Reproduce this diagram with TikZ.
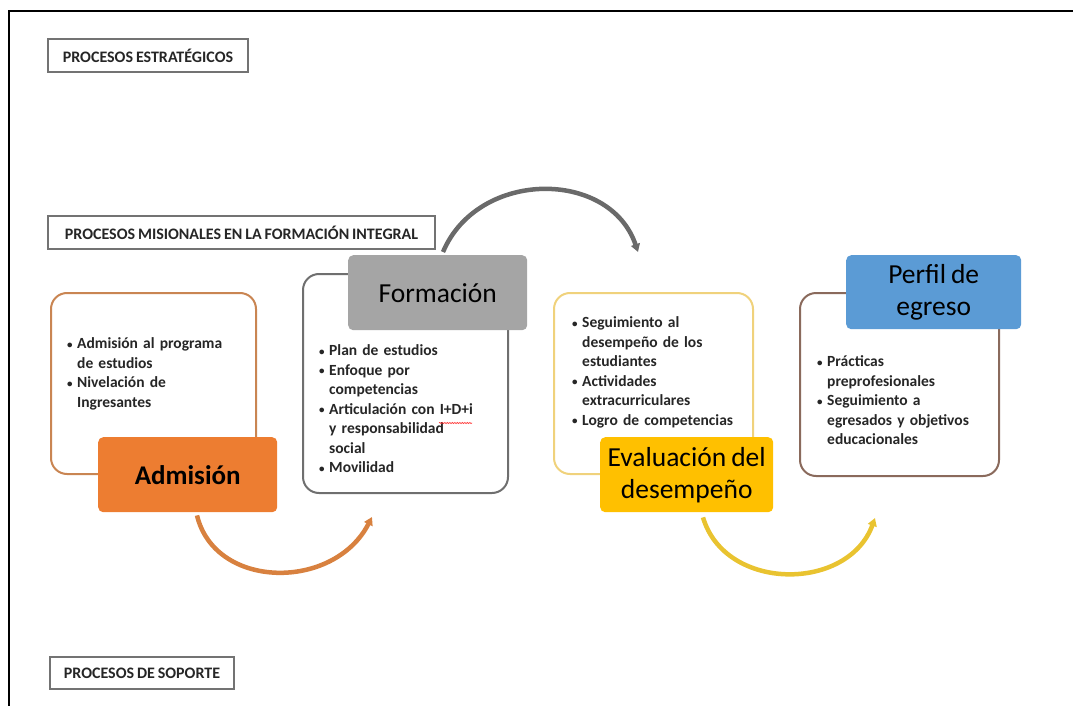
\documentclass[tikz,border=0pt]{standalone}
\usepackage{fontspec}
\setmainfont{Carlito}[WordSpace=0.8]
\usetikzlibrary{arrows.meta,decorations.pathmorphing}
\definecolor{orfill}{HTML}{ED7D31}
\definecolor{orline}{HTML}{C98552}
\definecolor{orarrow}{HTML}{D8813F}
\definecolor{grfill}{HTML}{A5A5A5}
\definecolor{grline}{HTML}{6F6F6F}
\definecolor{grarrow}{HTML}{6A6A6A}
\definecolor{yefill}{HTML}{FFC000}
\definecolor{yeline}{HTML}{F0D27C}
\definecolor{yearrow}{HTML}{E9C330}
\definecolor{blfill}{HTML}{5B9BD5}
\definecolor{blline}{HTML}{8A6A5C}
\definecolor{txt}{HTML}{262626}
\newcommand\bi{\par\rightskip=0pt plus 1fil\relax\hangindent=10pt\hangafter=1\noindent\makebox[10pt][l]{\raisebox{0.5pt}{\fontsize{11}{11}\selectfont•}}}
\tikzset{
  titlebox/.style={draw=black!55, line width=1.2pt, fill=white, inner sep=0pt,
    font=\bfseries\fontsize{16}{18}\selectfont, text=txt},
  outbox/.style={line width=2pt, rounded corners=16pt, fill=white, inner sep=0pt},
  headbox/.style={rounded corners=5pt, inner sep=0pt, text=black,
    font=\fontsize{27.5}{32}\selectfont, align=center},
  bultext/.style={inner sep=0pt, anchor=north west, text width=200pt,
    font=\bfseries\fontsize{15.5}{19.5}\selectfont, text=txt},
  flow/.style={line width=4.5pt, -{Triangle[length=8pt,width=9pt]}},
}
\begin{document}
\begin{tikzpicture}[x=1pt,y=-1pt]
\useasboundingbox (0,0) rectangle (1073,706);
% frame (top and left only)
\draw[line width=2.2pt] (9,706) -- (9,11) -- (1073,11);

% section titles
\node[titlebox, minimum width=200pt, minimum height=33pt] (estr) at (148,55.5) {PROCESOS ESTRATÉGICOS};
\node[titlebox, minimum width=387pt, minimum height=33pt] (mis) at (241.5,232.5) {PROCESOS MISIONALES EN LA FORMACIÓN INTEGRAL};
\node[titlebox, minimum width=184pt, minimum height=32pt] (sop) at (142,673) {PROCESOS DE SOPORTE};

% Admision
\node[outbox, draw=orline, minimum width=205pt, minimum height=181pt, anchor=north west] (admO) at (50,292) {};
\node[bultext] (admT) at (67,329) {\bi Admisión al programa\newline de estudios\bi Nivelación de\newline Ingresantes\par};
\node[headbox, fill=orfill, minimum width=179pt, minimum height=75pt, anchor=north west, font=\bfseries\fontsize{27}{32}\selectfont] (adm) at (98,437) {Admisión};

% Formacion
\node[outbox, draw=grline, minimum width=205pt, minimum height=219pt, anchor=north west] (forO) at (302,273) {};
\node[bultext] (forT) at (319,336) {\bi Plan de estudios\bi Enfoque por\newline competencias\bi Articulación con I+D+i\newline y responsabilidad\newline social\bi Movilidad\par};
\node[headbox, fill=grfill, minimum width=179pt, minimum height=75pt, anchor=north west] (for) at (348,255) {Formación};
\draw[red!80, line width=0.6pt, decorate, decoration={snake, amplitude=0.6pt, segment length=2.5pt}] (439,423) -- (472,423);

% Evaluacion
\node[outbox, draw=yeline, minimum width=199pt, minimum height=181pt, anchor=north west] (evaO) at (553,292) {};
\node[bultext] (evaT) at (572,308) {\bi Seguimiento al\newline desempeño de los\newline estudiantes\bi Actividades\newline extracurriculares\bi Logro de competencias\par};
\node[headbox, fill=yefill, minimum width=173pt, minimum height=75pt, anchor=north west] (eva) at (600,437) {Evaluación del\\desempeño};

% Perfil
\node[outbox, draw=blline, minimum width=199pt, minimum height=183pt, anchor=north west] (perO) at (799,292) {};
\node[bultext] (perT) at (817,347) {\bi Prácticas\newline preprofesionales\bi Seguimiento a\newline egresados y objetivos\newline educacionales\par};
\node[headbox, fill=blfill, minimum width=175pt, minimum height=74pt, anchor=north west] (per) at (846,255) {\raisebox{-3pt}{\parbox{170pt}{\centering Perfil de\\egreso}}};

% flow arrows
\coordinate (a1e) at (372,517);
\coordinate (a2s) at (443,252);
\coordinate (a2e) at (638,252);
\coordinate (a3e) at (875,518);
\draw[flow, orarrow] (adm.south west)++(99,3) .. controls (215,590) and (334,591) .. (a1e);
\draw[flow, grarrow] (a2s) .. controls (478,169) and (610,169) .. (a2e);
\draw[flow, yearrow] (eva.south west)++(103,5) .. controls (725,592) and (848,592) .. (a3e);
\end{tikzpicture}
\end{document}
